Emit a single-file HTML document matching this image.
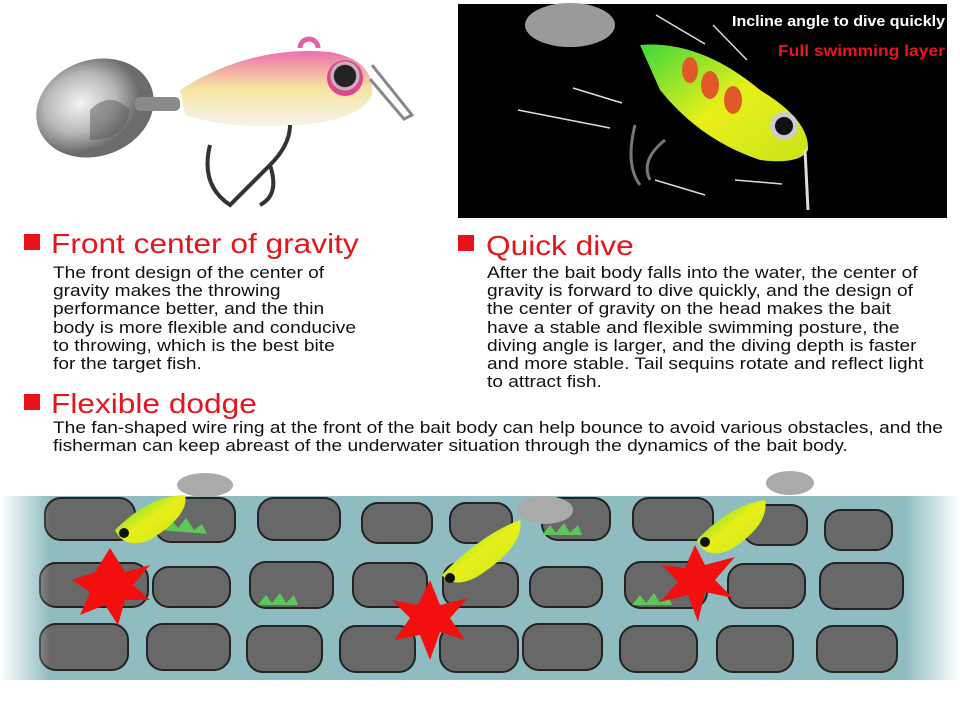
<!DOCTYPE html>
<html><head><meta charset="utf-8"><style>
body{margin:0;width:960px;height:713px;background:#fff;position:relative;overflow:hidden;font-family:"Liberation Sans",Arial,sans-serif}
.h{position:absolute;color:#e8141c;font-size:28px;line-height:32px;white-space:nowrap;transform:scaleX(1.13);transform-origin:0 0}
.sq{position:absolute;width:16px;height:16px;background:#e8141c}
.p{position:absolute;font-size:17px;line-height:18.2px;color:#111;white-space:nowrap;transform:scaleX(1.125);transform-origin:0 0}
</style></head><body>
<svg style="position:absolute;left:0;top:0" width="960" height="713">
<defs>
<radialGradient id="blade" cx="0.4" cy="0.4"><stop offset="0" stop-color="#f4f4f4"/><stop offset="0.6" stop-color="#b8b8b8"/><stop offset="1" stop-color="#6c6c6c"/></radialGradient>
<linearGradient id="pink" x1="0" y1="0" x2="0" y2="1"><stop offset="0" stop-color="#ee6fae"/><stop offset="0.5" stop-color="#f6e6a0"/><stop offset="1" stop-color="#f6f2ee"/></linearGradient>
<linearGradient id="grn" x1="0" y1="0" x2="1" y2="1"><stop offset="0" stop-color="#3dd83a"/><stop offset="0.5" stop-color="#e8ef1a"/><stop offset="1" stop-color="#c8e41a"/></linearGradient>
<linearGradient id="fl" x1="0" x2="1"><stop offset="0" stop-color="#fff"/><stop offset="1" stop-color="#fff" stop-opacity="0"/></linearGradient>
<linearGradient id="fr" x1="1" x2="0"><stop offset="0" stop-color="#fff"/><stop offset="1" stop-color="#fff" stop-opacity="0"/></linearGradient>
</defs>
<ellipse cx="95" cy="108" rx="60" ry="48" fill="url(#blade)" transform="rotate(-20 95 108)"/>
<path d="M90 110 q20 -20 40 0 q-5 30 -40 30z" fill="#555" opacity="0.5"/>
<rect x="135" y="97" width="45" height="14" rx="5" fill="#8a8a8a"/>
<path d="M180 90 Q250 45 330 52 Q375 60 372 95 Q360 120 300 125 Q230 130 185 115 Z" fill="url(#pink)"/>
<circle cx="345" cy="78" r="18" fill="#e2448e"/><circle cx="345" cy="76" r="11" fill="#222"/><circle cx="345" cy="76" r="13" fill="none" stroke="#bbb" stroke-width="3"/>
<path d="M300 48 a8 8 0 0 1 18 0" fill="none" stroke="#e85fa3" stroke-width="5"/>
<path d="M372 65 l40 50 l-8 4 l-34 -40" fill="none" stroke="#888" stroke-width="3"/>
<path d="M290 125 q0 20 -20 40 q-20 20 -40 40 q-30 -20 -20 -60 M270 165 q10 30 -10 40" fill="none" stroke="#333" stroke-width="4"/>
<rect x="458" y="4" width="489" height="214" fill="#000"/>
<ellipse cx="570" cy="25" rx="45" ry="22" fill="#9a9a9a"/>
<path d="M640 45 Q700 40 760 90 Q810 120 808 150 Q800 165 760 160 Q700 140 660 90 Z" fill="url(#grn)"/>
<ellipse cx="690" cy="70" rx="8" ry="13" fill="#e05a28"/><ellipse cx="710" cy="85" rx="9" ry="14" fill="#e05a28"/><ellipse cx="733" cy="100" rx="9" ry="14" fill="#e05a28"/>
<circle cx="784" cy="126" r="14" fill="#ccc"/><circle cx="784" cy="126" r="9" fill="#111"/>
<path d="M805 150 L808 210" stroke="#ddd" stroke-width="3"/>
<path d="M640 185 q-15 -20 -5 -60 M650 180 q-10 -20 15 -40" fill="none" stroke="#777" stroke-width="3"/>
<g stroke="#ddd" stroke-width="1.5"><line x1="656" y1="15" x2="705" y2="44"/><line x1="713" y1="25" x2="747" y2="60"/><line x1="573" y1="88" x2="622" y2="103"/><line x1="518" y1="110" x2="610" y2="128"/><line x1="655" y1="180" x2="705" y2="195"/><line x1="735" y1="180" x2="782" y2="184"/></g>
<text x="732" y="26" fill="#fff" font-size="15" font-weight="bold" font-family="Liberation Sans" textLength="213" lengthAdjust="spacingAndGlyphs">Incline angle to dive quickly</text>
<text x="778" y="56" fill="#e8141c" font-size="16" font-weight="bold" font-family="Liberation Sans" textLength="167" lengthAdjust="spacingAndGlyphs">Full swimming layer</text>
<rect x="0" y="496" width="960" height="184" fill="#8fbcc0"/>
<g fill="#686868" stroke="#222" stroke-width="2">
<rect x="45" y="498" width="90" height="42" rx="16"/><rect x="155" y="498" width="80" height="44" rx="16"/><rect x="258" y="498" width="82" height="42" rx="16"/><rect x="362" y="503" width="70" height="40" rx="16"/><rect x="450" y="503" width="62" height="40" rx="16"/><rect x="542" y="498" width="68" height="42" rx="16"/><rect x="633" y="498" width="80" height="42" rx="16"/><rect x="743" y="505" width="64" height="40" rx="16"/><rect x="825" y="510" width="67" height="40" rx="16"/>
<rect x="40" y="563" width="108" height="44" rx="16"/><rect x="153" y="567" width="77" height="40" rx="16"/><rect x="250" y="562" width="83" height="46" rx="16"/><rect x="353" y="563" width="74" height="44" rx="16"/><rect x="443" y="563" width="75" height="44" rx="16"/><rect x="530" y="567" width="72" height="40" rx="16"/><rect x="625" y="562" width="82" height="46" rx="16"/><rect x="728" y="564" width="77" height="44" rx="16"/><rect x="820" y="563" width="83" height="46" rx="16"/>
<rect x="40" y="624" width="88" height="46" rx="16"/><rect x="147" y="624" width="83" height="46" rx="16"/><rect x="247" y="626" width="75" height="46" rx="16"/><rect x="340" y="626" width="75" height="46" rx="16"/><rect x="440" y="626" width="78" height="46" rx="16"/><rect x="523" y="624" width="79" height="46" rx="16"/><rect x="620" y="626" width="77" height="46" rx="16"/><rect x="717" y="626" width="76" height="46" rx="16"/><rect x="817" y="626" width="80" height="46" rx="16"/>
</g>
<rect x="0" y="490" width="50" height="195" fill="url(#fl)"/><rect x="905" y="490" width="55" height="195" fill="url(#fr)"/>
<g fill="#5cc85a"><path d="M160 530 l10 -12 l8 10 l8 -10 l8 12 l8 -6 l5 10z"/><path d="M258 605 l8 -10 l6 8 l8 -10 l6 10 l8 -8 l4 10z"/><path d="M632 605 l8 -10 l6 8 l8 -10 l6 10 l8 -8 l4 10z"/><path d="M542 535 l8 -10 l6 8 l8 -10 l6 10 l8 -8 l4 10z"/></g>
<g fill="url(#grn)"><path d="M115 530 Q150 495 185 495 Q190 515 150 540 Q125 550 115 530Z"/><path d="M442 575 Q480 535 520 520 Q525 545 480 575 Q455 590 442 575Z"/><path d="M697 540 Q730 505 765 500 Q770 525 730 550 Q705 560 697 540Z"/></g>
<g fill="#111"><circle cx="124" cy="533" r="5"/><circle cx="450" cy="578" r="5"/><circle cx="705" cy="542" r="5"/></g>
<g fill="#aaa"><ellipse cx="205" cy="485" rx="28" ry="12"/><ellipse cx="545" cy="510" rx="28" ry="14"/><ellipse cx="790" cy="483" rx="24" ry="12"/></g>
<g fill="#f40f0f"><polygon points="110,548 125,572 150,565 133,585 150,600 125,600 118,625 105,605 80,615 90,592 72,580 95,572"/><polygon points="430,580 440,605 468,598 450,618 465,640 440,632 430,660 420,635 395,640 410,618 392,600 418,605"/><polygon points="695,545 705,565 735,557 715,580 733,598 705,592 698,622 688,595 660,602 678,582 662,565 685,568"/></g>
</svg>
<div class="sq" style="left:24px;top:234px"></div>
<div class="h" style="left:51px;top:228px">Front center of gravity</div>
<div class="p" style="left:53px;top:264px">The front design of the center of<br>gravity makes the throwing<br>performance better, and the thin<br>body is more flexible and conducive<br>to throwing, which is the best bite<br>for the target fish.</div>
<div class="sq" style="left:458px;top:235px"></div>
<div class="h" style="left:486px;top:230px">Quick dive</div>
<div class="p" style="left:487px;top:264px">After the bait body falls into the water, the center of<br>gravity is forward to dive quickly, and the design of<br>the center of gravity on the head makes the bait<br>have a stable and flexible swimming posture, the<br>diving angle is larger, and the diving depth is faster<br>and more stable. Tail sequins rotate and reflect light<br>to attract fish.</div>
<div class="sq" style="left:24px;top:394px"></div>
<div class="h" style="left:51px;top:388px">Flexible dodge</div>
<div class="p" style="left:53px;top:419px">The fan-shaped wire ring at the front of the bait body can help bounce to avoid various obstacles, and the<br>fisherman can keep abreast of the underwater situation through the dynamics of the bait body.</div>
</body></html>
